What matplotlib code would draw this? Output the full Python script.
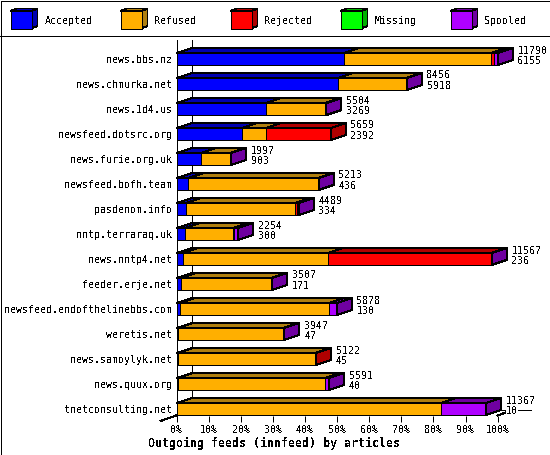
import matplotlib
matplotlib.use('Agg')
import matplotlib.pyplot as plt
from matplotlib.patches import Polygon, Rectangle
import numpy as np

hosts = ['news.bbs.nz', 'news.chmurka.net', 'news.1d4.us', 'newsfeed.dotsrc.org',
         'news.furie.org.uk', 'newsfeed.bofh.team', 'pasdenom.info', 'nntp.terraraq.uk',
         'news.nntp4.net', 'feeder.erje.net', 'newsfeed.endofthelinebbs.com', 'weretis.net',
         'news.samoylyk.net', 'news.quux.org', 'tnetconsulting.net']
accepted = [6155, 5918, 3269, 2392, 903, 436, 334, 300, 236, 171, 130, 47, 45, 40, 10]
refused = [5400, 2520, 2191, 886, 1060, 4754, 4012, 1768, 5321, 3282, 5463, 3880, 5040, 5420, 9700]
rejected = [105, 0, 0, 2381, 0, 0, 61, 52, 6000, 0, 0, 0, 37, 0, 0]
missing = [0, 0, 0, 0, 0, 0, 0, 0, 0, 0, 0, 0, 0, 0, 0]
spooled = [130, 18, 44, 0, 34, 23, 82, 134, 10, 54, 285, 20, 0, 131, 1657]

names = ['Accepted', 'Refused', 'Rejected', 'Missing', 'Spooled']
front = ['#0000ff', '#ffaf00', '#ff0000', '#00ff00', '#af00ff']
dark = ['#0000af', '#af7f0f', '#af0000', '#00af00', '#6f00a0']
ticks = list(range(0, 101, 10))
xlabel = 'Outgoing feeds (innfeed) by articles'

plt.rcParams['font.family'] = ['DejaVu Sans Mono']
plt.rcParams['font.size'] = 7.2
plt.rcParams['text.antialiased'] = False
plt.rcParams['lines.antialiased'] = False
plt.rcParams['patch.antialiased'] = False
LW = 0.72

W, H = 550, 455
fig = plt.figure(figsize=(W/100, H/100), dpi=100)

# page frame and legend, in pixels
bg = fig.add_axes([0, 0, 1, 1])
bg.set_xlim(0, W)
bg.set_ylim(H, 0)
bg.axis('off')
bg.add_patch(Rectangle((0.5, 0.5), W-1, H-1, fc='none', ec='k', lw=LW))
bg.plot([0, W], [35.5, 35.5], color='k', lw=LW)
for k, name in enumerate(names):
    x0 = 10.5 + 110*k
    bg.add_patch(Polygon([(x0, 11), (x0+6, 8.5), (x0+27, 8.5), (x0+21, 11)], fc=dark[k], ec='k', lw=LW))
    bg.add_patch(Polygon([(x0+21, 11), (x0+27, 8.5), (x0+27, 26), (x0+21, 28.5)], fc=dark[k], ec='k', lw=LW))
    bg.add_patch(Rectangle((x0, 11), 21, 17.5, fc=front[k], ec='k', lw=LW))
    bg.text(x0+34, 20.5, name, ha='left', va='center')

ax = fig.add_axes([176.6/W, (H-415.5)/H, 321/W, 375.5/H])
ax.patch.set_alpha(0)
ax.set_xlim(0, 100)
ax.set_ylim(14.26, -0.76)
for s in ['top', 'right', 'bottom']:
    ax.spines[s].set_visible(False)
ax.spines['left'].set_linewidth(LW)

series = np.array([accepted, refused, rejected, missing, spooled], dtype=float)
totals = series.sum(axis=0)
pct = series*100/totals.max()
dx = 15/3.21
dy = 5/25
hh = 0.24

# back wall lines
ax.plot([dx, dx], [-0.76, 14+hh-dy], color='k', lw=LW, zorder=1)
ax.plot([100+dx, 100+dx], [-0.76, 14+hh-dy], color='k', lw=LW, zorder=1)
ax.plot([dx, 100+dx+5.6], [14+hh-dy, 14+hh-dy], color='k', lw=LW, zorder=1, clip_on=False)
ax.plot([-5, dx], [14.26+0.22, 14+hh-dy], color='k', lw=LW, zorder=1, clip_on=False)
ax.plot([100, 100+dx], [14.26, 14+hh-dy], color='k', lw=LW, zorder=1, clip_on=False)

for i in range(len(hosts)):
    left = 0.0
    used = [k for k in range(len(names)) if pct[k][i] > 0]
    for k in used:
        w = pct[k][i]
        ax.add_patch(Polygon([(left, i-hh), (left+dx, i-hh-dy), (left+w+dx, i-hh-dy), (left+w, i-hh)],
                             fc=dark[k], ec='k', lw=LW, zorder=2+i, clip_on=False))
        ax.barh(i, w, left=left, height=2*hh, color=front[k], edgecolor='k', linewidth=LW, zorder=2+i, clip_on=False)
        left += w
    k = used[-1]
    ax.add_patch(Polygon([(left, i-hh), (left+dx, i-hh-dy), (left+dx, i+hh-dy), (left, i+hh)],
                         fc=dark[k], ec='k', lw=LW, zorder=2+i, clip_on=False))
    for val, off in [(totals[i], 8.5), (accepted[i], -2.0)]:
        ax.annotate('%d' % val, (left, i), xytext=(20*0.72, off*0.72), textcoords='offset points',
                    ha='left', va='center', zorder=30, annotation_clip=False,
                    bbox=dict(fc='w', ec='none', pad=0))

ax.set_yticks(range(len(hosts)))
ax.set_yticklabels(hosts)
ax.tick_params(axis='y', length=0, pad=3.0)
ax.set_xticks(ticks)
ax.set_xticklabels(['%d%%' % t for t in ticks])
ax.tick_params(axis='x', length=4, width=LW, pad=2.5)
ax.set_xlabel(xlabel, fontsize=8.4, fontweight='bold', labelpad=2, x=(274-176.6)/321)

fig.savefig('out.png', dpi=100)
